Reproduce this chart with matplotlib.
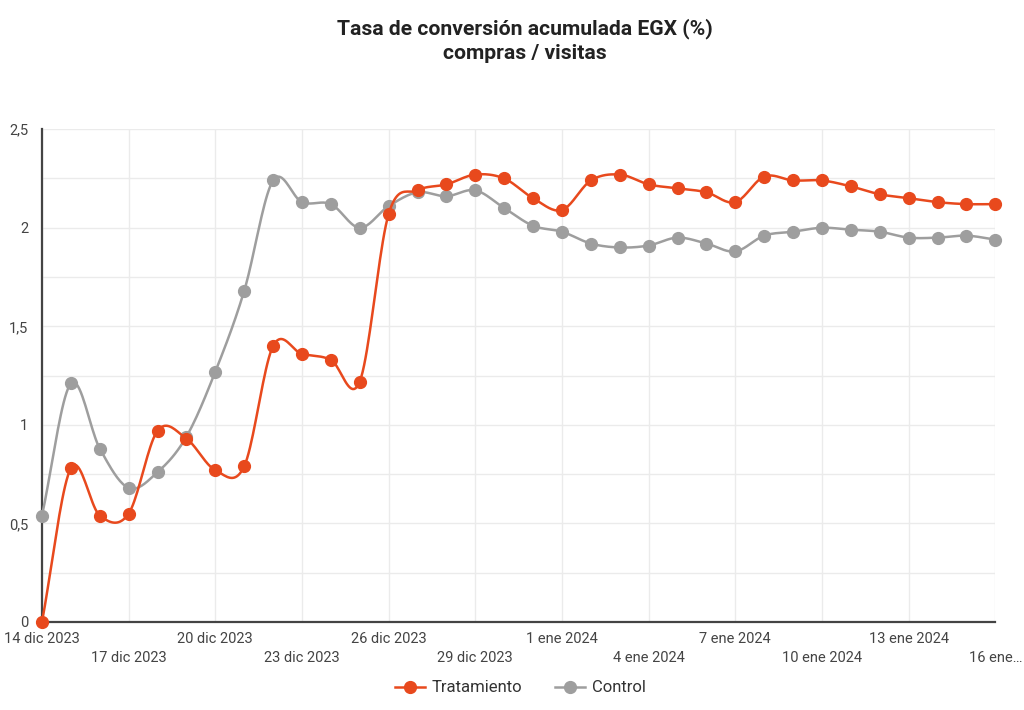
import numpy as np
import matplotlib
matplotlib.use("Agg")
import matplotlib.pyplot as plt
from matplotlib.lines import Line2D

plt.rcParams['font.family'] = ['Roboto', 'DejaVu Sans']

# ---- data ----
x_labels = ["14 dic 2023", "17 dic 2023", "20 dic 2023", "23 dic 2023", "26 dic 2023",
            "29 dic 2023", "1 ene 2024", "4 ene 2024", "7 ene 2024", "10 ene 2024",
            "13 ene 2024", "16 ene\u2026"]
tratamiento = [0.00, 0.78, 0.54, 0.55, 0.97, 0.93, 0.77, 0.79, 1.40, 1.36, 1.33, 1.22,
               2.07, 2.19, 2.22, 2.27, 2.25, 2.15, 2.09, 2.24, 2.27, 2.22, 2.20, 2.18,
               2.13, 2.26, 2.24, 2.24, 2.21, 2.17, 2.15, 2.13, 2.12, 2.12]
control = [0.54, 1.21, 0.88, 0.68, 0.76, 0.94, 1.27, 1.68, 2.24, 2.13, 2.12, 2.00,
           2.11, 2.18, 2.16, 2.19, 2.10, 2.01, 1.98, 1.92, 1.90, 1.91, 1.95, 1.92,
           1.88, 1.96, 1.98, 2.00, 1.99, 1.98, 1.95, 1.95, 1.96, 1.94]
y_ticks = [0, 0.5, 1, 1.5, 2, 2.5]
y_tick_labels = ["0", "0,5", "1", "1,5", "2", "2,5"]

C_T = "#e8491d"
C_C = "#9e9e9e"


def smooth(y, n=20):
    y = np.asarray(y, float)
    x = np.arange(len(y))
    m = np.zeros_like(y)
    m[1:-1] = (y[2:] - y[:-2]) / 2
    m[0] = y[1] - y[0]
    m[-1] = y[-1] - y[-2]
    xs, ys = [], []
    for i in range(len(y) - 1):
        t = np.linspace(0, 1, n, endpoint=False)
        h00 = 2 * t**3 - 3 * t**2 + 1
        h10 = t**3 - 2 * t**2 + t
        h01 = -2 * t**3 + 3 * t**2
        h11 = t**3 - t**2
        xs.append(x[i] + t)
        ys.append(h00 * y[i] + h10 * m[i] + h01 * y[i + 1] + h11 * m[i + 1])
    xs.append([x[-1]])
    ys.append([y[-1]])
    return np.concatenate(xs), np.concatenate(ys)


fig = plt.figure(figsize=(10.24, 7.1), dpi=100)
ax = fig.add_axes([0.041, 0.124, 0.931, 0.694])

days = np.arange(len(tratamiento))
for data, col, z in [(control, C_C, 3), (tratamiento, C_T, 4)]:
    sx, sy = smooth(data)
    ax.plot(sx, sy, color=col, lw=1.8, zorder=z, clip_on=False)
    ax.plot(days, data, 'o', color=col, ms=8.5, zorder=z, clip_on=False)

ax.set_xlim(0, len(tratamiento) - 1)
ax.set_ylim(0, 2.5)
ax.set_yticks(y_ticks)
ax.set_yticklabels(y_tick_labels)
ax.set_yticks(np.arange(0.25, 2.5, 0.5), minor=True)
xt = np.arange(0, len(tratamiento), 3)
ax.set_xticks(xt)
ax.set_xticklabels([lab if i % 2 == 0 else "\n" + lab for i, lab in enumerate(x_labels)],
                   linespacing=1.45)
ax.tick_params(axis='both', length=0, labelsize=10.5, colors="#444444")
ax.tick_params(axis='y', which='minor', length=0)
ax.tick_params(axis='x', pad=7)
ax.tick_params(axis='y', pad=10)

ax.grid(True, which='both', color="#ebebeb", lw=1)
ax.set_axisbelow(True)
for s in ['top', 'right']:
    ax.spines[s].set_visible(False)
ax.spines['left'].set_color("#444444")
ax.spines['left'].set_linewidth(1.6)
ax.spines['bottom'].set_color("#444444")
ax.spines['bottom'].set_linewidth(1.6)

fig.text(0.513, 0.960, "Tasa de conversión acumulada EGX (%)",
         ha='center', va='center', fontsize=15.2, fontweight='bold', color="#222222")
fig.text(0.513, 0.925, "compras / visitas",
         ha='center', va='center', fontsize=15.2, fontweight='bold', color="#222222")

handles = [Line2D([0], [0], color=C_T, lw=1.8, marker='o', ms=8.5),
           Line2D([0], [0], color=C_C, lw=1.8, marker='o', ms=8.5)]
fig.legend(handles, ["Tratamiento", "Control"], loc='center', bbox_to_anchor=(0.508, 0.031),
           ncol=2, frameon=False, fontsize=12, handlelength=1.8, columnspacing=2.0,
           handletextpad=0.4, labelcolor="#333333")

fig.savefig("out.png", dpi=100)
